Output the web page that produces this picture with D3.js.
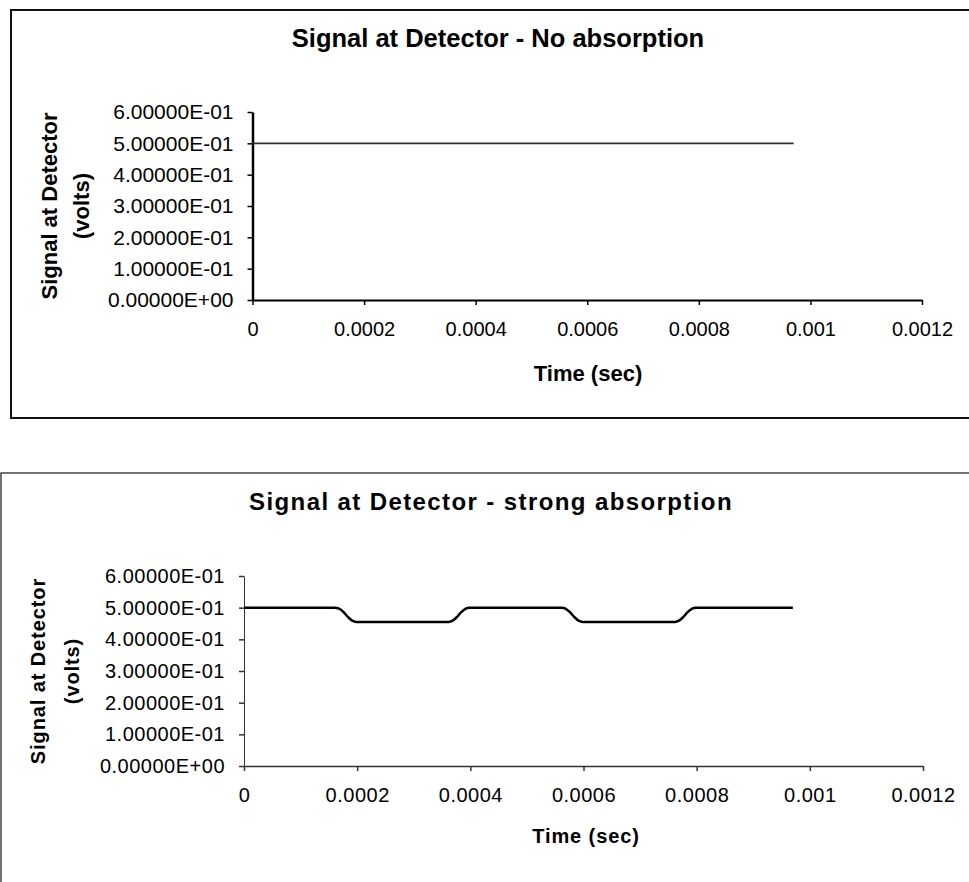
<!DOCTYPE html>
<html>
<head>
<meta charset="utf-8">
<script src="https://cdn.jsdelivr.net/npm/d3@7/dist/d3.min.js"></script>
<style>
  html, body { margin: 0; padding: 0; background: #fff; }
  svg { display: block; }
  text { font-family: "Liberation Sans", Arial, sans-serif; fill: #000; }
</style>
</head>
<body>
<svg id="chart" width="969" height="882"></svg>
<script>
// ---------- data ----------
const xTickValues = [0, 0.0002, 0.0004, 0.0006, 0.0008, 0.001, 0.0012];
const xTickLabels = ["0", "0.0002", "0.0004", "0.0006", "0.0008", "0.001", "0.0012"];
const yTickValues = [0, 0.1, 0.2, 0.3, 0.4, 0.5, 0.6];
const yTickLabels = ["0.00000E+00", "1.00000E-01", "2.00000E-01", "3.00000E-01",
                     "4.00000E-01", "5.00000E-01", "6.00000E-01"];

const titleNoAbs = "Signal at Detector - No absorption";
const titleStrong = "Signal at Detector - strong absorption";
const yTitleLines = ["Signal at Detector", "(volts)"];
const xTitle = "Time (sec)";

// No absorption: constant signal
const timeNoAbs   = [0, 0.00097];
const signalNoAbs = [0.5, 0.5];

// Strong absorption
const timeStrong = [0, 0.000160, 0.000168, 0.000176, 0.000184, 0.000192, 0.000198,
                    0.000362, 0.000368, 0.000376, 0.000384, 0.000392, 0.000398,
                    0.000562, 0.000568, 0.000576, 0.000584, 0.000592, 0.000598,
                    0.000762, 0.000768, 0.000776, 0.000784, 0.000792, 0.000798,
                    0.00097];
const signalStrong = [0.5, 0.5, 0.497, 0.486, 0.470, 0.458, 0.455,
                      0.455, 0.458, 0.470, 0.486, 0.497, 0.5,
                      0.5, 0.497, 0.486, 0.470, 0.458, 0.455,
                      0.455, 0.458, 0.470, 0.486, 0.497, 0.5,
                      0.5];

// ---------- drawing ----------
const svg = d3.select("#chart");

function drawChart(cfg) {
  const g = svg.append("g");
  // frame
  g.append("rect")
    .attr("x", cfg.frame.x).attr("y", cfg.frame.y)
    .attr("width", cfg.frame.w).attr("height", cfg.frame.h)
    .attr("fill", "none").attr("stroke", cfg.frame.color).attr("stroke-width", cfg.frame.sw);

  const x = d3.scaleLinear().domain([0, 0.0012]).range([cfg.left, cfg.right]);
  const y = d3.scaleLinear().domain([0, 0.6]).range([cfg.bottom, cfg.top]);

  // title
  g.append("text")
    .attr("x", cfg.titleX).attr("y", cfg.titleY)
    .attr("text-anchor", "middle").attr("dy", "0.35em")
    .style("font-size", cfg.titleSize + "px").style("font-weight", "bold")
    .style("letter-spacing", cfg.titleSpacing + "px")
    .text(cfg.title);

  // y axis
  const yAxis = d3.axisLeft(y).tickValues(yTickValues)
    .tickFormat((d, i) => yTickLabels[i]).tickSize(5).tickPadding(14).tickSizeOuter(0);
  const ya = g.append("g").attr("transform", `translate(${cfg.left},0)`).call(yAxis);
  ya.selectAll(".domain").attr("stroke", cfg.axisColor).attr("stroke-width", cfg.yAxisW);
  ya.selectAll(".tick line").attr("stroke", cfg.axisColor).attr("stroke-width", 1.5);
  ya.selectAll("text").style("font-size", cfg.yTickSize + "px").style("font-family", "'Liberation Sans', Arial, sans-serif")
    .style("letter-spacing", cfg.tickSpacing + "px");

  // x axis
  const xAxis = d3.axisBottom(x).tickValues(xTickValues)
    .tickFormat((d, i) => xTickLabels[i]).tickSize(5).tickPadding(17).tickSizeOuter(0);
  const xa = g.append("g").attr("transform", `translate(0,${cfg.bottom})`).call(xAxis);
  xa.selectAll(".domain").attr("stroke", cfg.axisColor).attr("stroke-width", cfg.xAxisW);
  xa.selectAll(".tick line").attr("stroke", cfg.axisColor).attr("stroke-width", 1.5);
  xa.selectAll("text").style("font-size", cfg.xTickSize + "px").style("font-family", "'Liberation Sans', Arial, sans-serif")
    .style("letter-spacing", cfg.tickSpacing + "px");

  // x title
  g.append("text")
    .attr("x", cfg.xTitleX).attr("y", cfg.xTitleY)
    .attr("text-anchor", "middle").attr("dy", "0.35em")
    .style("font-size", cfg.axisTitleSize + "px").style("font-weight", "bold")
    .style("letter-spacing", cfg.spacing + "px")
    .text(xTitle);

  // y title (two lines, rotated)
  const cy = (cfg.top + cfg.bottom) / 2;
  yTitleLines.forEach((t, i) => {
    g.append("text")
      .attr("transform", `translate(${cfg.yTitleX[i]},${cy}) rotate(-90)`)
      .attr("text-anchor", "middle").attr("dy", "0.35em")
      .style("font-size", cfg.axisTitleSize + "px").style("font-weight", "bold")
      .style("letter-spacing", cfg.spacing + "px")
      .text(t);
  });

  // series line
  const pts = cfg.times.map((t, i) => [t, cfg.values[i]]);
  g.append("path")
    .datum(pts)
    .attr("fill", "none")
    .attr("stroke", cfg.lineColor)
    .attr("stroke-width", cfg.lineW)
    .attr("stroke-linejoin", "round")
    .attr("d", d3.line().x(d => x(d[0])).y(d => y(d[1])).curve(d3.curveMonotoneX));
}

drawChart({
  frame: { x: 11, y: 10, w: 980, h: 408, color: "#111", sw: 2 },
  left: 252.5, right: 922, top: 112, bottom: 300,
  title: titleNoAbs, titleX: 498, titleY: 38, titleSize: 25.5, titleSpacing: 0,
  yTickSize: 21, xTickSize: 20, tickSpacing: 0, axisTitleSize: 22, spacing: 0,
  xTitleX: 588, xTitleY: 373, yTitleX: [49, 81],
  axisColor: "#000", yAxisW: 2.5, xAxisW: 2,
  times: timeNoAbs, values: signalNoAbs, lineColor: "#333", lineW: 1.6
});

drawChart({
  frame: { x: 1, y: 473, w: 990, h: 500, color: "#444", sw: 1.5 },
  left: 244, right: 923, top: 576, bottom: 766,
  title: titleStrong, titleX: 491, titleY: 502, titleSize: 24, titleSpacing: 1.4,
  yTickSize: 20, xTickSize: 20, tickSpacing: 0.5, axisTitleSize: 20, spacing: 0.9,
  xTitleX: 586, xTitleY: 836, yTitleX: [38, 72],
  axisColor: "#333", yAxisW: 1, xAxisW: 1.5,
  times: timeStrong, values: signalStrong, lineColor: "#000", lineW: 2.5
});
</script>
</body>
</html>
